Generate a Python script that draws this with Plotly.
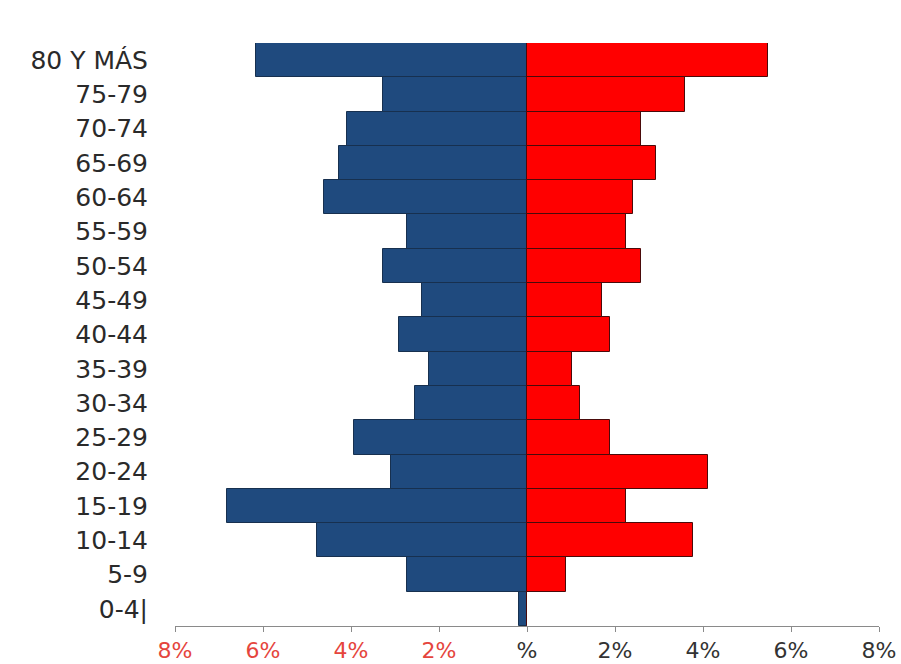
import plotly.graph_objects as go

age_groups = ["0-4|", "5-9", "10-14", "15-19", "20-24", "25-29", "30-34", "35-39",
              "40-44", "45-49", "50-54", "55-59", "60-64", "65-69", "70-74", "75-79", "80 Y MÁS"]
hombres = [0.19, 2.73, 4.77, 6.82, 3.09, 3.93, 2.55, 2.23,
           2.91, 2.39, 3.27, 2.73, 4.61, 4.27, 4.09, 3.27, 6.16]
mujeres = [0.0, 0.89, 3.78, 2.25, 4.12, 1.89, 1.20, 1.03,
           1.89, 1.71, 2.59, 2.25, 2.41, 2.93, 2.59, 3.59, 5.48]

tick_vals = [-8, -6, -4, -2, 0, 2, 4, 6, 8]
tick_text = ['<span style="color:#e5453d">8%</span>', '<span style="color:#e5453d">6%</span>',
             '<span style="color:#e5453d">4%</span>', '<span style="color:#e5453d">2%</span>',
             '%', '2%', '4%', '6%', '8%']

fig = go.Figure()
fig.add_trace(go.Bar(
    y=age_groups, x=[-v for v in hombres], orientation="h", name="Hombres",
    marker=dict(color="#1f4a7e", line=dict(color="#17304f", width=1)),
))
fig.add_trace(go.Bar(
    y=age_groups, x=mujeres, orientation="h", name="Mujeres",
    marker=dict(color="#ff0000", line=dict(color="#4a0a0a", width=1)),
))

fig.update_layout(
    width=901, height=664,
    barmode="relative", bargap=0,
    showlegend=False,
    plot_bgcolor="white", paper_bgcolor="white",
    margin=dict(l=175, r=22, t=43, b=38, autoexpand=False),
    font=dict(family="DejaVu Sans", size=24, color="#222"),
)
fig.update_xaxes(
    range=[-8, 8], tickvals=tick_vals, ticktext=tick_text,
    showline=True, linecolor="#8a8a8a", linewidth=1,
    ticks="outside", ticklen=5, tickcolor="#8a8a8a",
    showgrid=False, zeroline=False, automargin=False,
    tickfont=dict(size=22, color="#333"),
)
fig.update_yaxes(
    categoryorder="array", categoryarray=age_groups,
    showline=False, showgrid=False, zeroline=False, automargin=False,
    ticks="", ticklabelstandoff=26,
    tickfont=dict(size=25, color="#2a2a2a"),
)

fig.write_html("out.html", config={"displayModeBar": False},
               post_script="document.body.style.margin='0';document.body.style.overflow='hidden';")
